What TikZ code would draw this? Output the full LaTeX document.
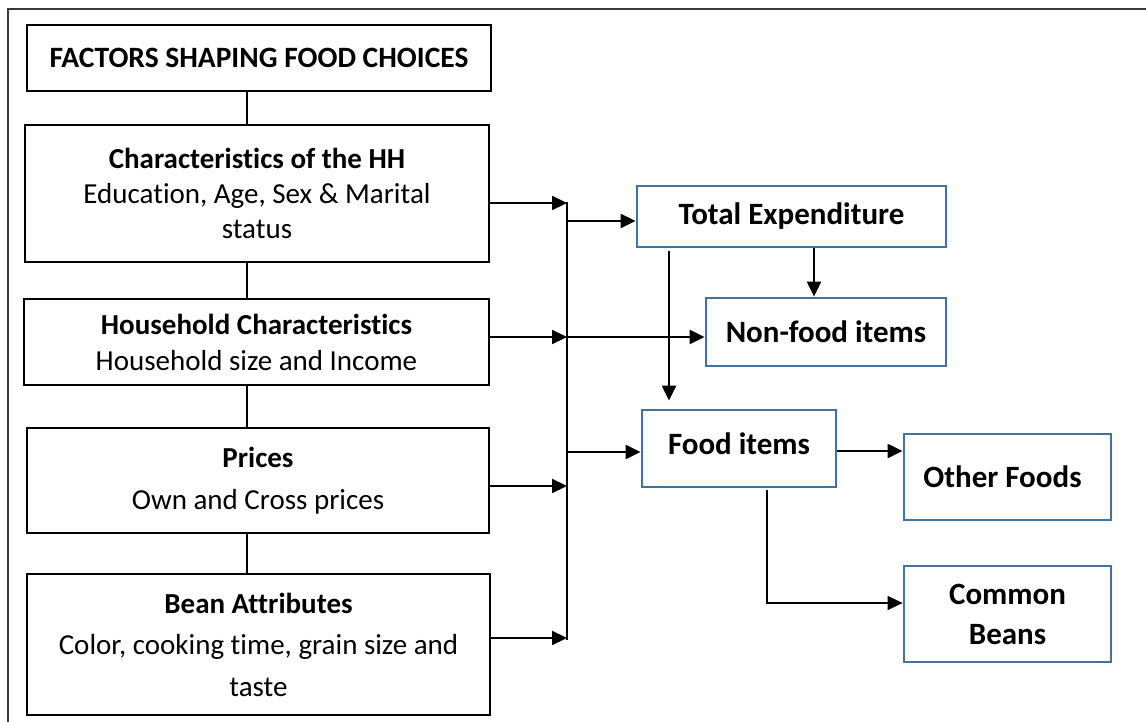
\documentclass[tikz,border=0pt]{standalone}
\usepackage{fontspec}
\setmainfont{Carlito}[RawFeature=-liga]
\usetikzlibrary{arrows.meta}
\definecolor{boxblue}{HTML}{44729F}
\definecolor{framegrey}{HTML}{3A3A3A}
\tikzset{
  leftbox/.style={draw=black, line width=2.2pt, rectangle, inner sep=0pt, align=center},
  rightbox/.style={draw=boxblue, line width=2.8pt, rectangle, inner sep=0pt, align=center,
                   font=\fontsize{31}{40}\selectfont\bfseries},
  arr/.style={line width=2.2pt, -{Triangle[length=15pt,width=14pt]}},
  thinarr/.style={line width=1.6pt, -{Triangle[length=15pt,width=14pt]}},
  link/.style={line width=1.3pt},
  frame/.style={draw=framegrey, line width=1.6pt}
}
\begin{document}
\begin{tikzpicture}[x=1pt, y=-1pt]
  \useasboundingbox (0,0) rectangle (1146,722);

  % outer frame (left and top edges only)
  \coordinate (fbl) at (8,722);
  \coordinate (ftl) at (8,9);
  \coordinate (ftr) at (1146,9);
  \draw[frame] (fbl) -- (ftl) -- (ftr);

  % left column of factor boxes
  \node[leftbox, minimum width=464pt, minimum height=66pt,
        font=\fontsize{29.5}{34}\selectfont\bfseries] (title) at (259,58)
        {FACTORS SHAPING FOOD CHOICES};
  \node[leftbox, minimum width=464pt, minimum height=137pt,
        font=\fontsize{29}{35}\selectfont] (hh) at (257,193.5)
        {\textbf{Characteristics of the HH}\\Education, Age, Sex \& Marital\\status};
  \node[leftbox, minimum width=465pt, minimum height=86pt,
        font=\fontsize{29}{36}\selectfont] (hc) at (256.5,342)
        {\textbf{Household Characteristics}\\Household size and Income};
  \node[leftbox, minimum width=462pt, minimum height=105pt,
        font=\fontsize{29}{42}\selectfont] (pr) at (258,480.5)
        {\textbf{Prices}\\Own and Cross prices};
  \node[leftbox, minimum width=463pt, minimum height=141pt,
        font=\fontsize{29}{41.5}\selectfont] (ba) at (258.5,644.5)
        {\textbf{Bean Attributes}\\Color, cooking time, grain size and\\taste};

  % spine joining the factor boxes
  \coordinate (spine) at (247,0);
  \draw[link] (title.south -| spine) -- (hh.north -| spine);
  \draw[link] (hh.south -| spine) -- (hc.north -| spine);
  \draw[link] (hc.south -| spine) -- (pr.north -| spine);
  \draw[link] (pr.south -| spine) -- (ba.north -| spine);

  % right column of expenditure boxes
  \node[rightbox, minimum width=309pt, minimum height=61pt] (te) at (791.5,216.5) {Total Expenditure};
  \node[rightbox, minimum width=240pt, minimum height=68pt] (nf) at (826,332) {Non-food items};
  \node[rightbox, minimum width=194pt, minimum height=77pt] (fi) at (739,448.5) {\raisebox{9pt}{Food items}};
  \node[rightbox, minimum width=207pt, minimum height=86pt] (of) at (1007.5,477) {\hspace*{-10pt}Other Foods};
  \node[rightbox, minimum width=207pt, minimum height=96pt] (cb) at (1007.5,614) {Common\\Beans};

  % collecting bus
  \coordinate (a1) at (567,203);
  \coordinate (a2) at (567,337);
  \coordinate (a3) at (567,486);
  \coordinate (a4) at (567,638);
  \coordinate (b1) at (567,221);
  \coordinate (b3) at (567,452);
  \draw[link] ([yshift=1pt]a1) -- ([yshift=-2pt]a4);

  \draw[arr] (hh.east |- a1) -- (a1);
  \draw[arr] (hc.east |- a2) -- (a2);
  \draw[arr] (pr.east |- a3) -- (a3);
  \draw[arr] (ba.east |- a4) -- (a4);

  \draw[arr] (b1) -- (b1 -| te.west);
  \draw[arr] (a2) -- (a2 -| nf.west);
  \draw[arr] (b3) -- (b3 -| fi.west);

  % flows between expenditure boxes
  \coordinate (c1) at (814,0);
  \coordinate (c2) at (669,0);
  \coordinate (c3) at (767,603);
  \coordinate (c4) at (0,451);
  \draw[arr] (te.south -| c1) -- (nf.north -| c1);
  \draw[arr] ([yshift=-3pt]te.south -| c2) -- ([yshift=8pt]fi.north -| c2);
  \draw[arr] (fi.east |- c4) -- (of.west |- c4);
  \draw[thinarr] ([yshift=-2pt]fi.south -| c3) |- (cb.west |- c3);
\end{tikzpicture}
\end{document}
